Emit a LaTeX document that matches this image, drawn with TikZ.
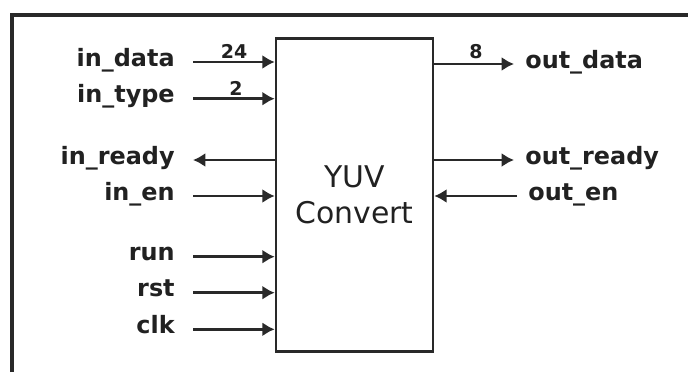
\documentclass[tikz,border=0pt]{standalone}
\usepackage{fontspec}
\setmainfont{DejaVu Sans}
\usetikzlibrary{arrows.meta,positioning}
\definecolor{LineClr}{rgb}{0.16,0.16,0.16}
\definecolor{TextClr}{rgb}{0.13,0.13,0.13}
\tikzset{
  sig/.style={line width=1.7pt,color=LineClr,-{Latex[length=7pt,width=8pt]}},
  port/.style={font=\bfseries\fontsize{13.6}{16}\selectfont,text=TextClr,
    inner sep=0pt,text height=10.3pt,text depth=3.3pt,yshift=1.2pt},
  buswidth/.style={font=\bfseries\fontsize{10.8}{12}\selectfont,text=TextClr,
    inner sep=0pt,anchor=base},
}

\begin{document}
\begin{tikzpicture}[x=0.02cm,y=-0.02cm]
\useasboundingbox (0,0) rectangle (688,372);

\draw[line width=1.9pt,LineClr] (12,372) -- (12,15) -- (688,15);

\node[draw=LineClr,line width=1.5pt,minimum width=3.14cm,minimum height=6.26cm,
  align=center,text=TextClr,font=\fontsize{17}{20.4}\selectfont]
  (conv) at (354.5,195) {YUV\\Convert};

\coordinate (inD) at (193,62);
\coordinate (inT) at (193,98.7);
\coordinate (inR) at (193,160);
\coordinate (inE) at (193,196);
\coordinate (run) at (193,256.7);
\coordinate (rst) at (193,292.7);
\coordinate (clk) at (193,329.3);
\coordinate (outD) at (514,64);
\coordinate (outR) at (514,160);
\coordinate (outE) at (517,196);

\node[port,left=0.36cm of inD] (LinD) {in\_data};
\node[port,left=0.36cm of inT] (LinT) {in\_type};
\node[port,left=0.36cm of inR] (LinR) {in\_ready};
\node[port,left=0.36cm of inE] (LinE) {in\_en};
\node[port,left=0.36cm of run] (Lrun) {run};
\node[port,left=0.36cm of rst] (Lrst) {rst};
\node[port,left=0.36cm of clk] (Lclk) {clk};
\node[port,right=0.22cm of outD] (LoutD) {out\_data};
\node[port,right=0.22cm of outR] (LoutR) {out\_ready};
\node[port,right=0.22cm of outE] (LoutE) {out\_en};

\draw[sig] (inD) -- (inD -| conv.west);
\draw[sig] (inT) -- (inT -| conv.west);
\draw[sig] (inR -| conv.west) -- (inR);
\draw[sig] (inE) -- (inE -| conv.west);
\draw[sig] (run) -- (run -| conv.west);
\draw[sig] (rst) -- (rst -| conv.west);
\draw[sig] (clk) -- (clk -| conv.west);
\draw[sig] (outD -| conv.east) -- (outD);
\draw[sig] (outR -| conv.east) -- (outR);
\draw[sig] (outE) -- (outE -| conv.east);

\node[buswidth] (w24) at (234,58) {24};
\node[buswidth] (w2) at (236,95) {2};
\node[buswidth] (w8) at (476,58) {8};

\end{tikzpicture}
\end{document}
